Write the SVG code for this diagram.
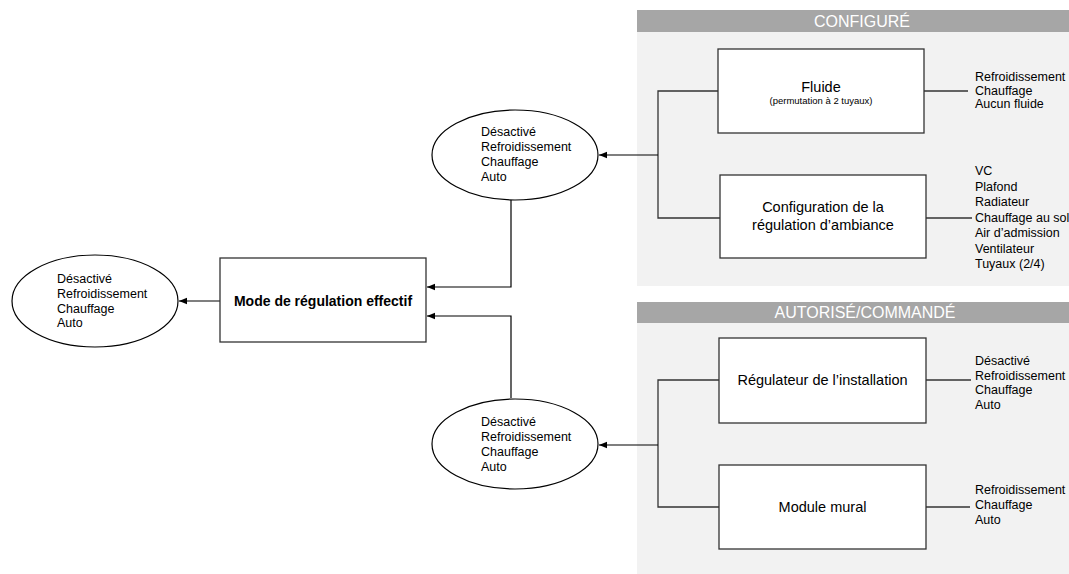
<svg xmlns="http://www.w3.org/2000/svg" width="1069" height="574" viewBox="0 0 1069 574">
<defs>
<marker id="ah" viewBox="0 0 10 10" refX="10" refY="5" markerWidth="8" markerHeight="8" markerUnits="userSpaceOnUse" orient="auto">
<path d="M0,1 L10,5 L0,9 Z" fill="#000"/>
</marker>
<style>
text{font-family:"Liberation Sans",Arial,sans-serif;fill:#000}
.box{fill:#fff;stroke:#333;stroke-width:1.3}
.ell{fill:#fff;stroke:#000;stroke-width:1.2}
.ln{fill:none;stroke:#333;stroke-width:1.3}
.arr{fill:none;stroke:#000;stroke-width:1.2;marker-end:url(#ah)}
.hdr{fill:#a6a6a6}
.pnl{fill:#f2f2f2}
.ht{font-size:16px;fill:#fff;text-anchor:middle}
.bt{font-size:14.5px;text-anchor:middle}
.lt{font-size:12.5px}
.st{font-size:9.5px;text-anchor:middle}
</style>
</defs>
<rect width="1069" height="574" fill="#fff"/>
<g id="panel-configure">
<rect class="pnl" x="637" y="32" width="432" height="254"/>
<rect class="hdr" x="637" y="10" width="432" height="22"/>
<text class="ht" x="862" y="27">CONFIGURÉ</text>
</g>
<g id="panel-autorise">
<rect class="pnl" x="637" y="323" width="432" height="251"/>
<rect class="hdr" x="637" y="302" width="432" height="21"/>
<text class="ht" x="865" y="318">AUTORISÉ/COMMANDÉ</text>
</g>
<g id="connectors">
<path class="ln" d="M718,91 H658 V218 H720"/>
<path class="arr" d="M658,155 H599"/>
<path class="ln" d="M924,91 H968"/>
<path class="ln" d="M926,218 H972"/>
<path class="ln" d="M719,380 H658 V507 H719"/>
<path class="arr" d="M658,445 H599"/>
<path class="ln" d="M926,380 H971"/>
<path class="ln" d="M926,507 H970"/>
<path class="arr" d="M511,200 V287 H427"/>
<path class="arr" d="M511,398 V316 H427"/>
<path class="arr" d="M220,301 H179"/>
</g>
<g id="fluide">
<rect class="box" x="718" y="49" width="206" height="84"/>
<text class="bt" x="821" y="92">Fluide</text>
<text class="st" x="821" y="104">(permutation à 2 tuyaux)</text>
</g>
<g id="fluide-options">
<text class="lt" x="975" y="81">Refroidissement</text>
<text class="lt" x="975" y="95">Chauffage</text>
<text class="lt" x="975" y="108">Aucun fluide</text>
</g>
<g id="configuration">
<rect class="box" x="720" y="175" width="206" height="83"/>
<text class="bt" x="823" y="212">Configuration de la</text>
<text class="bt" x="823" y="230">régulation d’ambiance</text>
</g>
<g id="configuration-options">
<text class="lt" x="975" y="175">VC</text>
<text class="lt" x="975" y="190.5">Plafond</text>
<text class="lt" x="975" y="206">Radiateur</text>
<text class="lt" x="975" y="221.5">Chauffage au sol</text>
<text class="lt" x="975" y="237">Air d’admission</text>
<text class="lt" x="975" y="252.5">Ventilateur</text>
<text class="lt" x="975" y="268">Tuyaux (2/4)</text>
</g>
<g id="regulateur">
<rect class="box" x="719" y="338" width="207" height="85"/>
<text class="bt" x="822.5" y="385">Régulateur de l’installation</text>
</g>
<g id="regulateur-options">
<text class="lt" x="975" y="365">Désactivé</text>
<text class="lt" x="975" y="379.5">Refroidissement</text>
<text class="lt" x="975" y="394">Chauffage</text>
<text class="lt" x="975" y="408.5">Auto</text>
</g>
<g id="module">
<rect class="box" x="719" y="465" width="207" height="84"/>
<text class="bt" x="822.5" y="512">Module mural</text>
</g>
<g id="module-options">
<text class="lt" x="975" y="494">Refroidissement</text>
<text class="lt" x="975" y="509">Chauffage</text>
<text class="lt" x="975" y="524">Auto</text>
</g>
<g id="ellipse-configure">
<ellipse class="ell" cx="515" cy="155" rx="83" ry="45"/>
<text class="lt" x="481" y="136">Désactivé</text>
<text class="lt" x="481" y="151">Refroidissement</text>
<text class="lt" x="481" y="166">Chauffage</text>
<text class="lt" x="481" y="181">Auto</text>
</g>
<g id="ellipse-autorise">
<ellipse class="ell" cx="515" cy="444" rx="83" ry="45"/>
<text class="lt" x="481" y="426">Désactivé</text>
<text class="lt" x="481" y="441">Refroidissement</text>
<text class="lt" x="481" y="456">Chauffage</text>
<text class="lt" x="481" y="471">Auto</text>
</g>
<g id="mode-effectif">
<rect class="box" x="220" y="258" width="206" height="84"/>
<text x="323" y="306" style="font-size:14px;font-weight:bold;text-anchor:middle">Mode de régulation effectif</text>
</g>
<g id="ellipse-effectif">
<ellipse class="ell" cx="95" cy="301" rx="83" ry="46"/>
<text class="lt" x="57" y="283">Désactivé</text>
<text class="lt" x="57" y="298">Refroidissement</text>
<text class="lt" x="57" y="313">Chauffage</text>
<text class="lt" x="57" y="327">Auto</text>
</g>
</svg>
